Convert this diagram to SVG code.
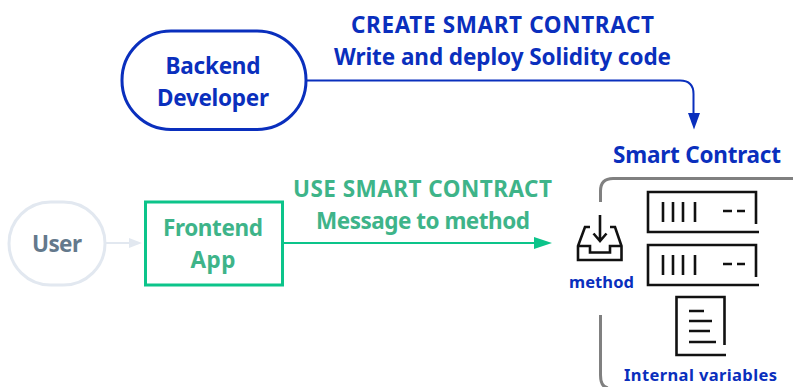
<svg xmlns="http://www.w3.org/2000/svg" width="793" height="387" viewBox="0 0 793 387">
<style>
text{font-family:"Noto Sans","Liberation Sans",sans-serif;font-weight:700;text-anchor:middle}
.b{fill:#0a2fbd}.g{fill:#3eb489}
.t{font-size:22.5px}.s{font-size:16.5px}
.ic{fill:none;stroke:#111;stroke-width:2.6}
</style>
<g id="connectors" fill="none">
<path d="M306 80.500H680Q693.500 80.500 693.500 94V114" stroke="#0a2fbd" stroke-width="2"/>
<path d="M688 113H700L694 129.500Z" fill="#0a2fbd"/>
<path d="M105 243H130" stroke="#e2e8f0" stroke-width="2"/>
<path d="M129 238L142 243L129 248Z" fill="#e2e8f0"/>
<path d="M283 243H536" stroke="#0cc48a" stroke-width="2"/>
<path d="M534 237L552 243L534 249Z" fill="#0cc48a"/>
</g>
<g id="backend"><rect x="122" y="31" width="184" height="98.500" rx="49" fill="#fff" stroke="#0a2fbd" stroke-width="3"/>
<text class="b t" x="213" y="74" textLength="95">Backend</text><text class="b t" x="213" y="106" textLength="112">Developer</text></g>
<g id="create-label"><text class="b t" x="502.500" y="33" textLength="303">CREATE SMART CONTRACT</text><text class="b t" x="502.500" y="65" textLength="337">Write and deploy Solidity code</text></g>
<g id="user"><rect x="9" y="202" width="96" height="83" rx="41.500" fill="#fff" stroke="#e2e8f0" stroke-width="3"/>
<text x="57" y="252" class="t" fill="#64798c" textLength="50">User</text></g>
<g id="frontend"><rect x="145.500" y="202" width="137" height="83" fill="#fff" stroke="#0cc48a" stroke-width="3"/>
<text class="g t" x="213" y="236" textLength="100">Frontend</text><text class="g t" x="213" y="268" textLength="45">App</text></g>
<g id="use-label"><text class="g t" x="422.500" y="197" textLength="259">USE SMART CONTRACT</text><text class="g t" x="423" y="229" textLength="214">Message to method</text></g>
<g id="smart-contract">
<text class="b t" x="697" y="163" textLength="168">Smart Contract</text>
<path d="M600.500 202V191Q600.500 178.500 613 178.500H793M600.500 315V375Q600.500 387 608 388" fill="none" stroke="#808080" stroke-width="3"/>
</g>
<g id="method">
<path class="ic" d="M590 227H585L578 246V260H621.500V246L615 227H610M578 246H590V252.500H610V246H621.500M600 215V241M593.500 233.500L600 241L606.500 233.500"/>
<text class="b s" x="601.500" y="288" textLength="65">method</text></g>
<g id="var1"><path class="ic" d="M756 224V192H648V232H759"/><path class="ic" d="M663 202V222M673 202V222M683 202V222M695 202V222M723 211H732M737 211H745"/></g>
<g id="var2"><path class="ic" d="M756 277V245H648V285H759"/><path class="ic" d="M663 255V275M673 255V275M683 255V275M695 255V275M723 264H732M737 264H745"/></g>
<g id="internal"><path class="ic" d="M724.500 345V297H676.500V355H726"/><path class="ic" d="M689 311H704M689 321H712M689 331H710M689 342H716"/>
<text class="b s" x="700.500" y="381" textLength="153">Internal variables</text></g>
</svg>
